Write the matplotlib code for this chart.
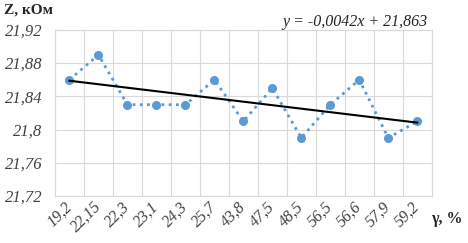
import matplotlib.pyplot as plt
import numpy as np
from matplotlib.ticker import FuncFormatter, FixedLocator

# data
gamma = ["19,2", "22,15", "22,3", "23,1", "24,3", "25,7", "43,8",
         "47,5", "48,5", "56,5", "56,6", "57,9", "59,2"]
z_kohm = [21.86, 21.89, 21.83, 21.83, 21.83, 21.86, 21.81,
          21.85, 21.79, 21.83, 21.86, 21.79, 21.81]
trend_slope = -0.0042
trend_icept = 21.863

plt.rcParams['font.family'] = ['Liberation Serif', 'DejaVu Serif']

fig = plt.figure(figsize=(4.68, 2.43), dpi=100)
ax = fig.add_axes([0.1175, 0.193, 0.805, 0.684])

x = np.arange(1, len(z_kohm) + 1)
ax.plot(x, z_kohm, linestyle=(0, (1, 1.6)), color="#5b9bd5", lw=2,
        marker="o", ms=5.5, mfc="#5b9bd5", mec="#5b9bd5", zorder=3)
ax.plot([x[0], x[-1]], [trend_icept + trend_slope * x[0], trend_icept + trend_slope * x[-1]],
        color="black", lw=1.5, zorder=4)

ax.set_xlim(0.5, len(z_kohm) + 0.5)
ax.set_ylim(21.72, 21.92)
ax.set_yticks(np.arange(21.72, 21.921, 0.04))
ax.yaxis.set_major_formatter(FuncFormatter(lambda v, p: f"{v:.2f}".rstrip("0").replace(".", ",")))
ax.set_xticks(x)
ax.set_xticklabels(gamma, rotation=45, ha="right", va="center",
                   rotation_mode="anchor", fontstyle="italic")
ax.xaxis.set_minor_locator(FixedLocator(np.arange(0.5, len(z_kohm) + 1, 1)))
for lab in ax.get_yticklabels():
    lab.set_fontstyle("italic")
ax.tick_params(axis="both", which="both", length=0, colors="#404040")
ax.tick_params(axis="y", labelsize=12, pad=9)
ax.tick_params(axis="x", labelsize=11.5, pad=6)

ax.grid(axis="y", color="#d9d9d9", lw=0.8)
ax.grid(axis="x", which="minor", color="#d9d9d9", lw=0.8)
for s in ax.spines.values():
    s.set_color("#d9d9d9")
    s.set_linewidth(0.8)

fig.text(0.008, 0.96, "Z, кОм", fontsize=11, fontweight="bold", color="#262626", va="center")
fig.text(0.922, 0.1, "γ, %", fontsize=11.5, fontweight="bold", color="#262626", va="center")
fig.text(0.913, 0.91, "y = -0,0042x + 21,863", fontsize=11.5, fontstyle="italic",
         color="#262626", ha="right", va="center")

fig.savefig("out.png", dpi=100)
